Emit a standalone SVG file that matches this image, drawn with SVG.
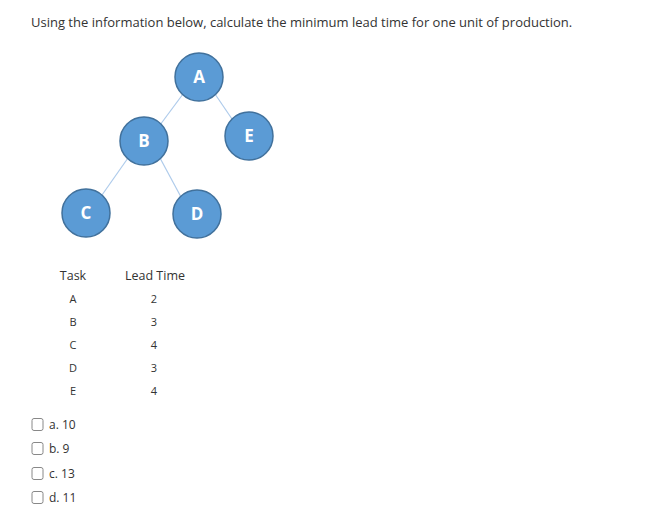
<svg xmlns="http://www.w3.org/2000/svg" width="667" height="527" viewBox="0 0 667 527">
<style>
text{font-family:"Open Sans","Noto Sans",sans-serif;fill:#333}
.t{font-size:13px}
.s{font-size:11px;text-anchor:middle}
.h{font-size:12.5px;text-anchor:middle}
.c{font-size:12px}
.node circle{fill:#5b9bd5;stroke:#41719c;stroke-width:1.5}
.node text{fill:#fff;font-weight:bold;font-size:17px;text-anchor:middle}
.edges line{stroke:#aecbeb;stroke-width:1.2}
.box{fill:#fff;stroke:#888;stroke-width:1}
</style>
<rect width="667" height="527" fill="#fff"/>
<text class="t" x="31" y="27">Using the information below, calculate the minimum lead time for one unit of production.</text>
<g class="edges">
<line x1="183" y1="94" x2="160" y2="125"/>
<line x1="215" y1="94" x2="232" y2="119"/>
<line x1="128" y1="158" x2="102" y2="195"/>
<line x1="160" y1="158" x2="181" y2="197"/>
</g>
<g id="A" class="node"><circle cx="199" cy="77" r="24"/><text x="199" y="83">A</text></g>
<g id="B" class="node"><circle cx="144" cy="141" r="24"/><text x="144" y="147">B</text></g>
<g id="E" class="node"><circle cx="249" cy="136" r="24"/><text x="249" y="142">E</text></g>
<g id="C" class="node"><circle cx="86" cy="213" r="24"/><text x="86" y="219">C</text></g>
<g id="D" class="node"><circle cx="197" cy="214" r="24"/><text x="197" y="220">D</text></g>
<text class="h" x="73" y="280">Task</text>
<text class="h" x="155" y="280">Lead Time</text>
<text class="s" x="73" y="303">A</text><text class="s" x="154" y="303">2</text>
<text class="s" x="73" y="326">B</text><text class="s" x="154" y="326">3</text>
<text class="s" x="73" y="349">C</text><text class="s" x="154" y="349">4</text>
<text class="s" x="73" y="372">D</text><text class="s" x="154" y="372">3</text>
<text class="s" x="73" y="395">E</text><text class="s" x="154" y="395">4</text>
<rect class="box" x="32" y="418.5" width="11" height="12" rx="2"/><text class="c" x="49" y="429">a. 10</text>
<rect class="box" x="32" y="442.5" width="11" height="12" rx="2"/><text class="c" x="49" y="453">b. 9</text>
<rect class="box" x="32" y="467.5" width="11" height="12" rx="2"/><text class="c" x="49" y="478">c. 13</text>
<rect class="box" x="32" y="491.5" width="11" height="12" rx="2"/><text class="c" x="49" y="502">d. 11</text>
</svg>
